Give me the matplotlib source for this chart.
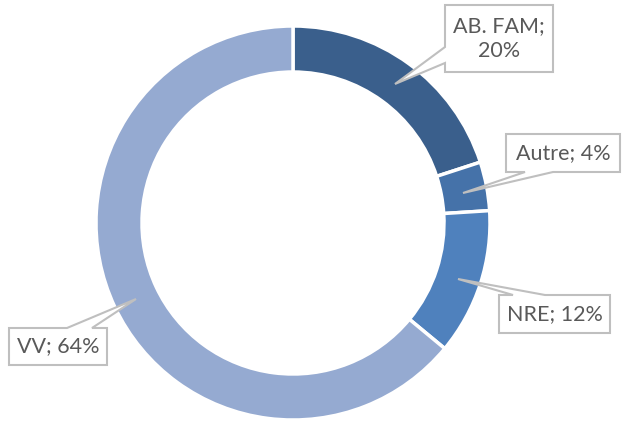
import matplotlib
matplotlib.use("Agg")
import matplotlib.pyplot as plt
from matplotlib.patches import Polygon

categories = ["AB. FAM", "Autre", "NRE", "VV"]
values = [20, 4, 12, 64]
label_texts = ["AB. FAM;\n20%", "Autre; 4%", "NRE; 12%", "VV; 64%"]
colors = ["#3A5F8C", "#4572A9", "#4F81BD", "#95AAD1"]

W, H = 622, 425
fig = plt.figure(figsize=(W / 100, H / 100), dpi=100)
ax = fig.add_axes([0, 0, 1, 1])

def fy(y):
    return H - y

cx, cy, R, width = 293, 223, 197, 46
ax.pie(values, startangle=90, counterclock=False, radius=R, center=(cx, fy(cy)),
       colors=colors, wedgeprops=dict(width=width, edgecolor="white", linewidth=2.5))

# callouts: box (x0,y0,x1,y1), pointer tip, attach points (image pixel coords)
callouts = [
    dict(box=(445, 5, 553, 72), tip=(395, 84), side="left", a=(47, 63)),
    dict(box=(506, 134, 620, 172), tip=(463, 193), side="bottom", a=(525, 553)),
    dict(box=(499, 295, 610, 333), tip=(458, 279), side="top", a=(513, 545)),
    dict(box=(9, 328, 107, 365), tip=(136, 299), side="top", a=(67, 92)),
]

for c, txt in zip(callouts, label_texts):
    x0, y0, x1, y1 = c["box"]
    tx, ty = c["tip"]
    a1, a2 = c["a"]
    if c["side"] == "left":
        pts = [(x0, y0), (x1, y0), (x1, y1), (x0, y1), (x0, a2), (tx, ty), (x0, a1)]
    elif c["side"] == "bottom":
        pts = [(x0, y0), (x1, y0), (x1, y1), (a2, y1), (tx, ty), (a1, y1), (x0, y1)]
    else:  # top
        pts = [(x0, y0), (a1, y0), (tx, ty), (a2, y0), (x1, y0), (x1, y1), (x0, y1)]
    poly = Polygon([(px, fy(py)) for px, py in pts], closed=True,
                   facecolor="white", edgecolor="#BFBFBF", linewidth=1.5, zorder=5)
    ax.add_patch(poly)
    ax.text((x0 + x1) / 2, fy((y0 + y1) / 2), txt, ha="center", va="center",
            fontsize=15.5, color="#595959", family="Lato", linespacing=1.25, zorder=6)

ax.set_xlim(0, W)
ax.set_ylim(0, H)
ax.set_aspect("auto")
ax.axis("off")
fig.savefig("out.png", dpi=100, facecolor="white")
